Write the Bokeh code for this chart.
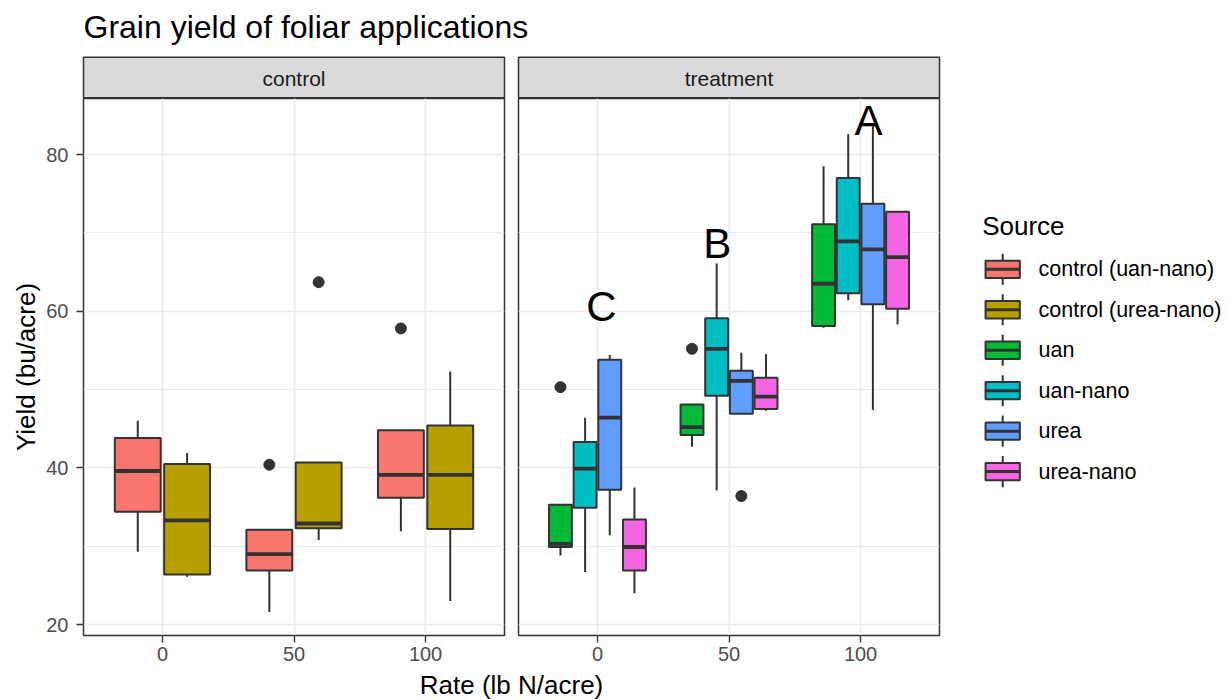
from bokeh.plotting import figure
from bokeh.models import Range1d, FixedTicker
from bokeh.layouts import column, row
from bokeh.embed import file_html
from bokeh.resources import INLINE
from bokeh.core.properties import value

# ---------------- data ----------------
TITLE = "Grain yield of foliar applications"
X_TITLE = "Rate (lb N/acre)"
Y_TITLE = "Yield (bu/acre)"
LEGEND_TITLE = "Source"
facets = ["control", "treatment"]
rates = ["0", "50", "100"]
y_ticks = [20, 40, 60, 80]
y_minor = [30, 50, 70]

control_sources = ["control (uan-nano)", "control (urea-nano)"]
treatment_sources = ["uan", "uan-nano", "urea", "urea-nano"]
sources = control_sources + treatment_sources
colors = ["#F8766D", "#B79F00", "#00BA38", "#00BFC4", "#619CFF", "#F564E3"]

# box statistics per source, one value per rate (0, 50, 100)
lower_whisker = {
    "control (uan-nano)": [29.3, 21.6, 31.9],
    "control (urea-nano)": [26.1, 30.8, 23.0],
    "uan": [28.8, 42.7, 57.9],
    "uan-nano": [26.7, 37.1, 61.4],
    "urea": [31.4, 46.9, 47.4],
    "urea-nano": [24.0, 47.3, 58.3],
}
q1 = {
    "control (uan-nano)": [34.4, 26.9, 36.2],
    "control (urea-nano)": [26.4, 32.3, 32.2],
    "uan": [29.9, 44.2, 58.1],
    "uan-nano": [34.9, 49.2, 62.3],
    "urea": [37.2, 46.9, 60.9],
    "urea-nano": [26.9, 47.5, 60.3],
}
median = {
    "control (uan-nano)": [39.6, 29.0, 39.1],
    "control (urea-nano)": [33.3, 32.9, 39.1],
    "uan": [30.3, 45.2, 63.5],
    "uan-nano": [39.9, 55.2, 68.9],
    "urea": [46.4, 51.1, 67.9],
    "urea-nano": [29.9, 49.1, 66.9],
}
q3 = {
    "control (uan-nano)": [43.8, 32.1, 44.8],
    "control (urea-nano)": [40.5, 40.7, 45.4],
    "uan": [35.3, 48.1, 71.1],
    "uan-nano": [43.3, 59.1, 77.0],
    "urea": [53.8, 52.4, 73.7],
    "urea-nano": [33.4, 51.5, 72.7],
}
upper_whisker = {
    "control (uan-nano)": [46.0, 32.1, 44.8],
    "control (urea-nano)": [41.9, 40.7, 52.3],
    "uan": [35.3, 48.1, 78.5],
    "uan-nano": [46.4, 66.1, 82.6],
    "urea": [54.4, 54.7, 84.0],
    "urea-nano": [37.5, 54.5, 72.7],
}
outlier_source = ["control (uan-nano)", "control (uan-nano)", "control (urea-nano)",
                  "uan", "uan", "urea"]
outlier_rate = ["50", "100", "50", "0", "50", "50"]
outlier_value = [40.4, 57.8, 63.7, 50.3, 55.2, 36.4]

letter_labels = ["C", "B", "A"]
letter_x = [1.03, 1.91, 3.06]
letter_y = [60.6, 68.7, 84.4]

# ---------------- style ----------------
FONT = "Liberation Sans"
BORDER = "#333333"
GRID = "#EBEBEB"
STRIP = "#D9D9D9"
LEFT = 83
PANEL_W = 421
PANEL_H = 537
GAP = 12
BOTTOM = 33
DODGE = 0.75
BOX_FRAC = 0.93
PAGE_W = 1229
PAGE_H = 700


def box_positions(facet_sources, src):
    n = len(facet_sources)
    j = facet_sources.index(src)
    slot = DODGE / n
    xs = [i + 1 + (j - (n - 1) / 2) * slot for i in range(len(rates))]
    return xs, slot * BOX_FRAC


def make_panel(facet_sources, first):
    kw = dict(
        width=(LEFT if first else GAP) + PANEL_W + 2,
        height=PANEL_H + BOTTOM,
        x_range=Range1d(0.4, 3.6),
        y_range=Range1d(18.6, 87.15),
        output_backend="svg",
        toolbar_location=None,
        min_border_left=LEFT if first else GAP,
        min_border_right=2,
        min_border_top=0,
        min_border_bottom=BOTTOM,
        y_axis_location="left" if first else None,
        outline_line_color=BORDER,
        outline_line_width=1.5,
        background_fill_color="white",
        border_fill_color="white",
    )
    p = figure(**kw)
    xt = FixedTicker(ticks=[i + 1 for i in range(len(rates))])
    yt = FixedTicker(ticks=y_ticks, minor_ticks=y_minor)
    p.xaxis.ticker = xt
    p.xaxis.major_label_overrides = {i + 1: r for i, r in enumerate(rates)}
    p.xgrid.ticker = xt
    p.ygrid.ticker = yt
    for g in p.xgrid + p.ygrid:
        g.grid_line_color = GRID
        g.grid_line_width = 1.7
    p.ygrid.minor_grid_line_color = GRID
    p.ygrid.minor_grid_line_width = 1.1
    axes = list(p.xaxis) + (list(p.yaxis) if first else [])
    for ax in axes:
        ax.axis_line_color = None
        ax.major_tick_line_color = BORDER
        ax.major_tick_line_width = 1.4
        ax.major_tick_out = 7
        ax.major_tick_in = 0
        ax.minor_tick_line_color = None
        ax.major_label_text_font = FONT
        ax.major_label_text_font_size = "20px"
        ax.major_label_text_color = "#4D4D4D"
    p.xaxis.major_label_standoff = 4
    if first:
        p.yaxis.ticker = yt
        p.yaxis.major_label_standoff = 8
        p.yaxis.axis_label = Y_TITLE
        p.yaxis.axis_label_text_font = FONT
        p.yaxis.axis_label_text_font_size = "26px"
        p.yaxis.axis_label_text_font_style = "normal"
        p.yaxis.axis_label_text_color = "black"
        p.yaxis.axis_label_standoff = 2

    for src in facet_sources:
        col = colors[sources.index(src)]
        xs, w = box_positions(facet_sources, src)
        lw, b1, md, b3, uw = (lower_whisker[src], q1[src], median[src],
                              q3[src], upper_whisker[src])
        p.segment(x0=xs, y0=b3, x1=xs, y1=uw, line_color=BORDER, line_width=2.0)
        p.segment(x0=xs, y0=b1, x1=xs, y1=lw, line_color=BORDER, line_width=2.0)
        p.vbar(x=xs, width=w, top=b3, bottom=b1, fill_color=col,
               line_color=BORDER, line_width=2.0)
        p.segment(x0=[x - w / 2 for x in xs], y0=md, x1=[x + w / 2 for x in xs],
                  y1=md, line_color=BORDER, line_width=3.8)
        ox, oy = [], []
        for s, r, v in zip(outlier_source, outlier_rate, outlier_value):
            if s == src:
                ox.append(xs[rates.index(r)])
                oy.append(v)
        if ox:
            p.scatter(x=ox, y=oy, size=11, fill_color=BORDER, line_color=BORDER)
    return p


p1 = make_panel(control_sources, True)
p2 = make_panel(treatment_sources, False)
p2.text(x=letter_x, y=letter_y, text=letter_labels, text_font=value(FONT),
        text_font_size="42px", text_align="center", text_baseline="middle",
        text_color="black")

TOTAL_W = p1.width + p2.width


def blank(width, height, x0, y0):
    f = figure(width=width, height=height, x_range=Range1d(x0, x0 + width),
               y_range=Range1d(y0 + height, y0), output_backend="svg",
               toolbar_location=None, x_axis_location=None, y_axis_location=None,
               min_border_left=0, min_border_right=0, min_border_top=0,
               min_border_bottom=0, outline_line_color=None,
               background_fill_color=None, border_fill_color="white")
    f.grid.visible = False
    return f


# ---- title + strips ----
TOP_H = 98
top = blank(TOTAL_W, TOP_H, 0, 0)
strip_left = [LEFT, p1.width + GAP]
strip_right = [LEFT + PANEL_W, p1.width + GAP + PANEL_W]
top.quad(left=strip_left, right=strip_right, top=[56.7] * 2, bottom=[97.3] * 2,
         fill_color=STRIP, line_color=BORDER, line_width=1.5)
top.text(x=[(l + r) / 2 for l, r in zip(strip_left, strip_right)], y=[78] * 2,
         text=facets, text_font=value(FONT), text_font_size="21px",
         text_align="center", text_baseline="middle", text_color="#1A1A1A")
top.text(x=[LEFT], y=[26], text=[TITLE], text_font=value(FONT),
         text_font_size="32px", text_align="left", text_baseline="middle",
         text_color="black")

# ---- x axis title ----
ROW_H = PANEL_H + BOTTOM
BOT_H = PAGE_H - TOP_H - ROW_H
bot = blank(TOTAL_W, BOT_H, 0, TOP_H + ROW_H)
bot.text(x=[(LEFT + strip_right[1]) / 2], y=[684], text=[X_TITLE],
         text_font=value(FONT), text_font_size="26px", text_align="center",
         text_baseline="middle", text_color="black")

# ---- legend ----
LEG_W = PAGE_W - TOTAL_W
leg = blank(LEG_W, ROW_H, TOTAL_W, TOP_H)
leg.text(x=[981.7], y=[233.3], text=[LEGEND_TITLE], text_font=value(FONT),
         text_font_size="26px", text_align="left", text_baseline="middle",
         text_color="black")
row_y = [279.3 + 42.95 * i for i in range(len(sources))]
kx = 1002.2
kw_ = 34.3
leg.segment(x0=[kx] * len(sources), y0=[y - 16.5 for y in row_y],
            x1=[kx] * len(sources), y1=[y + 16.5 for y in row_y],
            line_color=BORDER, line_width=2.0)
leg.vbar(x=[kx] * len(sources), width=kw_, top=[y - 9.2 for y in row_y],
         bottom=[y + 9.2 for y in row_y], fill_color=colors,
         line_color=BORDER, line_width=2.0)
leg.segment(x0=[kx - kw_ / 2] * len(sources), y0=row_y,
            x1=[kx + kw_ / 2] * len(sources), y1=row_y,
            line_color=BORDER, line_width=3.0)
leg.text(x=[1038] * len(sources), y=row_y, text=sources, text_font=value(FONT),
         text_font_size="21.5px", text_align="left", text_baseline="middle",
         text_color="black")

layout = column(top, row(p1, p2, leg), bot)
open("out.html", "w").write(file_html(layout, INLINE))
